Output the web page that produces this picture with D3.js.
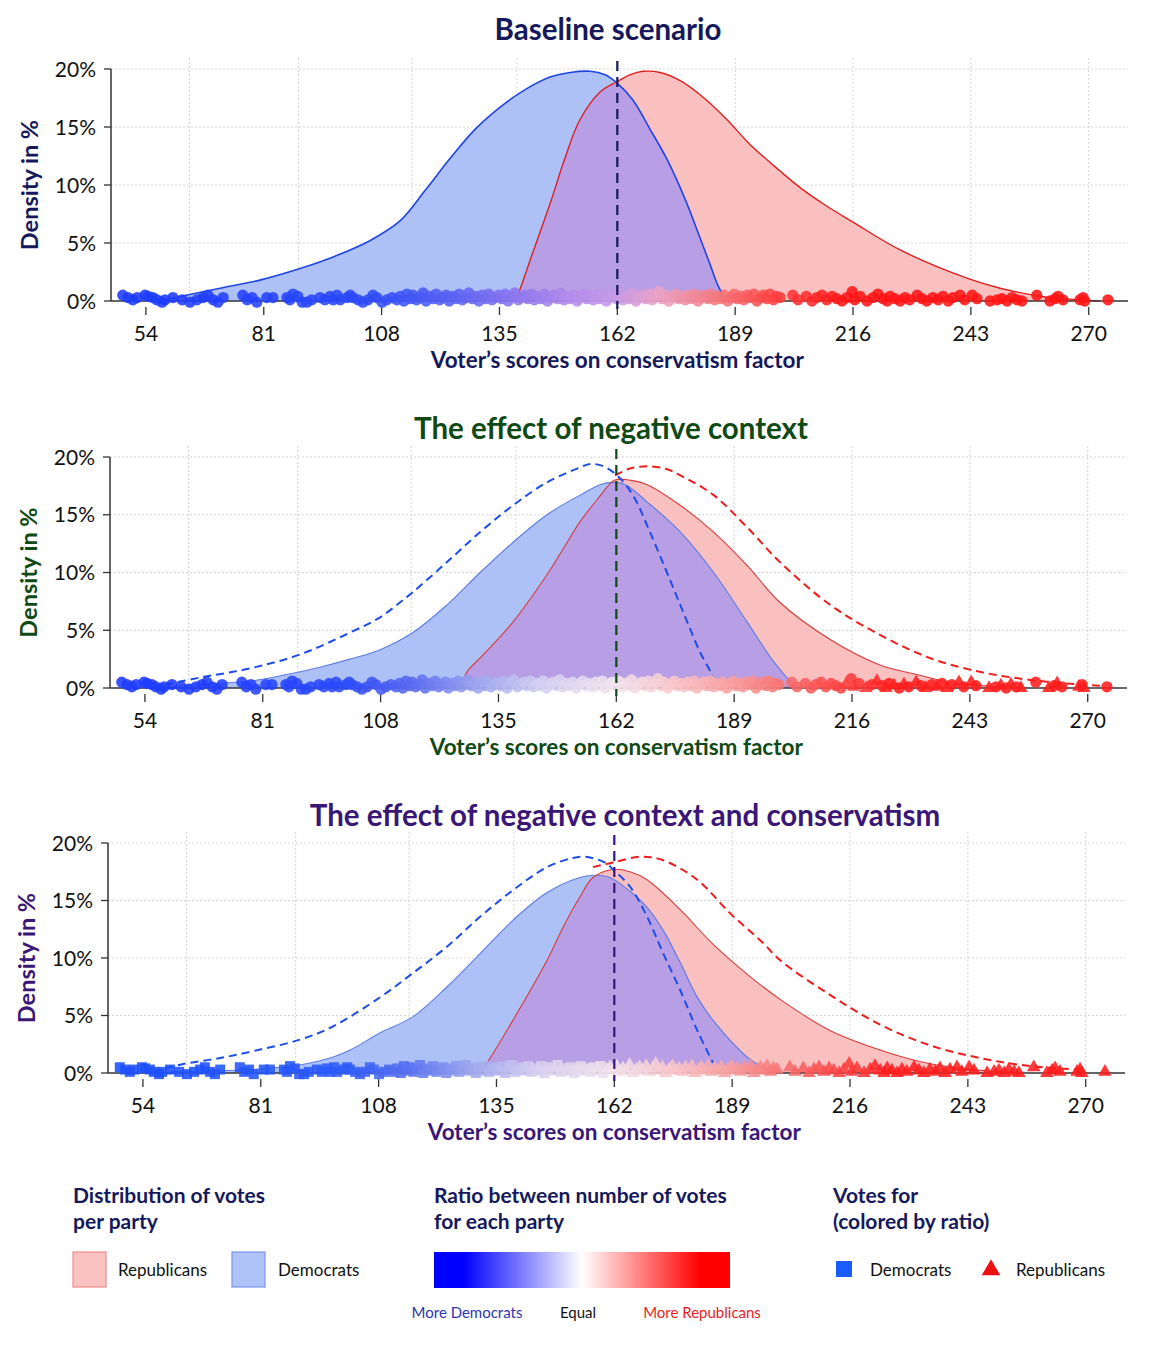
<!DOCTYPE html>
<html><head><meta charset="utf-8">
<script src="https://cdn.jsdelivr.net/npm/d3@7"></script>
<style>body{margin:0;background:#fff;} svg{display:block;font-family:Lato,'Open Sans',sans-serif;}</style>
</head><body><svg id="c" width="1158" height="1358"></svg>
<script>
// ---------------- DATA ----------------
const xTicks = [54, 81, 108, 135, 162, 189, 216, 243, 270];
const yTicks = [0, 5, 10, 15, 20];
const xGridLines = [64, 89, 115, 139, 189, 216, 243, 270];
const equalScore = 162;

const titles = ["Baseline scenario", "The effect of negative context", "The effect of negative context and conservatism"];
const xLabel = "Voter\u2019s scores on conservatism factor";
const yLabel = "Density in %";

// density curves: [score, density %]
const p1Dem = [[57.2,0],[61.3,0.35],[71.0,1.1],[80.1,1.8],[89.3,2.8],[96.9,3.8],[105.3,5.2],[112.2,6.9],[117.9,9.5],[123.7,12.3],[129.4,14.8],[135.1,16.7],[140.8,18.2],[146.6,19.3],[151.2,19.7],[155.8,19.8],[159.2,19.5],[161.9,18.8],[165.6,17.3],[169.5,14.8],[173.4,12.2],[177.5,8.8],[180.9,5.5],[183.2,3.2],[185.5,1.0],[187.8,0]];
const p1Rep = [[138.6,0],[139.7,1.0],[142.0,3.5],[146.6,8.4],[150.0,12.3],[153.4,15.6],[158.0,18.0],[161.9,18.9],[164.9,19.5],[167.9,19.8],[171.8,19.7],[176.4,19.0],[180.9,17.8],[186.7,15.8],[192.4,13.5],[199.3,11.2],[203.8,9.8],[209.5,8.3],[216.0,6.8],[226.8,4.4],[242.6,1.9],[249.7,1.1],[260.0,0.35],[268.0,0.1],[272.6,0]];

const p2DemBase = [[58.6,0.3],[66.6,0.9],[78.1,1.7],[89.5,2.9],[101.0,4.8],[107.8,6.1],[112.4,7.4],[115.4,8.3],[123.2,10.9],[130.8,13.5],[138.3,15.8],[146.1,17.8],[153.7,19.1],[156.0,19.4],[159.0,19.2],[162.2,18.4],[165.8,16.7],[169.7,13.5],[173.6,10.0],[177.3,6.6],[181.2,3.1],[184.1,1.1]];
const p2Dem = [[59.7,0.1],[66.6,0.3],[78.1,0.6],[85.6,1.1],[94.1,1.8],[101.0,2.5],[107.8,3.3],[115.4,4.8],[123.2,7.2],[130.8,10.0],[138.3,12.6],[146.1,15.0],[153.7,16.7],[158.3,17.6],[161.1,17.8],[164.1,17.6],[169.1,16.1],[176.7,13.5],[184.3,10.0],[192.0,5.7],[198.0,2.3],[201.9,0.6],[204.2,0]];
const p2Rep = [[126.2,0],[127.8,1.4],[130.8,2.6],[138.3,5.7],[146.1,9.8],[150.7,12.6],[153.7,14.4],[157.6,16.3],[161.7,18.0],[165.1,18.0],[169.1,17.6],[176.7,15.8],[184.3,13.5],[192.0,10.6],[199.5,7.4],[211.0,4.2],[222.4,2.0],[231.6,1.1],[238.4,0.5],[249.9,0.1],[254.5,0]];
const p2RepBase = [[161.7,18.4],[165.1,19.0],[169.1,19.2],[173.2,19.0],[176.7,18.4],[184.3,16.7],[192.0,13.9],[199.5,10.9],[211.0,7.2],[222.4,4.6],[233.8,2.6],[245.3,1.4],[256.8,0.7],[268.2,0.3],[272.8,0.2]];

const p3DemBase = [[59.1,0.4],[63.5,0.8],[71.7,1.3],[80.4,2.0],[90.0,2.9],[97.3,4.0],[108.4,6.6],[115.9,8.7],[123.7,11.0],[131.3,13.6],[138.8,15.9],[146.6,17.9],[152.5,18.7],[155.4,18.8],[159.9,18.3],[161.7,17.7],[165.6,16.2],[169.5,13.6],[173.2,10.4],[177.1,7.2],[181.0,3.7],[184.6,0.9]];
const p3Dem = [[60.2,0.1],[78.6,0.3],[90.0,0.7],[96.9,1.3],[101.5,2.0],[108.4,3.5],[115.9,4.9],[123.7,7.5],[131.3,10.4],[138.8,13.3],[146.6,15.7],[154.1,17.0],[157.1,17.2],[161.0,17.0],[165.6,15.8],[169.5,14.4],[173.2,12.4],[177.1,9.6],[181.0,6.6],[184.6,4.6],[192.4,1.4],[196.1,0.5],[200.0,0]];
const p3Rep = [[131.3,0],[132.9,0.9],[138.8,4.6],[146.6,9.8],[150.3,12.7],[154.1,15.3],[157.1,17.0],[161.7,17.7],[165.6,17.5],[169.5,16.8],[177.1,14.2],[184.6,11.2],[192.4,8.6],[200.0,6.4],[211.4,3.7],[222.9,2.0],[232.0,1.0],[241.2,0.4],[250.4,0.1],[255.0,0]];
const p3RepBase = [[157.1,17.9],[161.7,18.3],[167.9,18.8],[173.2,18.5],[181.0,16.8],[188.5,13.9],[196.1,11.3],[200.0,9.8],[211.4,6.8],[222.9,4.2],[234.4,2.4],[245.8,1.3],[257.3,0.6],[268.7,0.3]];

// voters: [score, vertical lift in %]
const voters = [[48.7,0.5],[49.9,0.3],[51.0,0.1],[52.0,0.3],[53.8,0.5],[54.5,0.4],[55.6,0.3],[56.5,0.1],[57.7,-0.1],[58.4,0.1],[60.2,0.3],[62.3,0.1],[64.1,-0.1],[65.7,0.1],[67.1,0.3],[68.2,0.5],[69.4,0.1],[70.5,-0.1],[71.7,0.3],[76.2,0.5],[77.2,0.1],[78.3,0.3],[79.4,-0.1],[81.7,0.3],[83.1,0.3],[86.3,0.3],[87.0,0.1],[87.7,0.6],[88.8,0.4],[89.8,-0.1],[90.9,-0.1],[92.0,0.1],[93.9,0.3],[95.0,0.1],[96.2,0.4],[96.9,0.1],[97.8,0.5],[98.5,0.1],[100.1,0.3],[100.8,0.5],[101.4,0.3],[102.6,0.1],[103.7,-0.1],[104.9,0.1],[106.0,0.5],[106.9,0.3],[108.1,-0.1],[109.2,0.1],[110.4,0.3],[111.5,0.1],
[112.3,0.4],[113.1,0.0],[113.8,0.6],[114.6,0.2],[115.2,0.5],[116.0,0.1],[116.9,0.3],[117.5,0.7],[118.2,0.0],[119.0,0.4],[119.8,0.2],[120.5,0.6],[121.3,0.1],[122.0,0.3],[122.8,0.5],[123.5,0.0],[124.3,0.4],[125.0,0.2],[125.8,0.6],[126.5,0.1],[127.3,0.3],[128.0,0.7],[128.8,0.2],[129.5,0.4],[130.3,0.0],[131.0,0.5],[131.8,0.2],[132.5,0.6],[133.3,0.1],[134.0,0.3],[134.8,0.5],[135.5,0.2],[136.3,0.6],[137.0,0.0],[137.8,0.4],[138.5,0.7],[139.3,0.1],[140.0,0.3],[140.8,0.5],[141.5,0.2],[142.3,0.6],[143.0,0.1],[143.8,0.4],[144.5,0.2],[145.3,0.6],[146.0,0.0],[146.8,0.3],[147.5,0.5],[148.3,0.2],[149.0,0.7],[149.8,0.1],[150.5,0.4],[151.3,0.2],[152.0,0.5],[152.8,0.0],[153.5,0.3],[154.3,0.6],[155.0,0.2],[155.8,0.4],[156.5,0.1],[157.3,0.5],[158.0,0.2],[158.8,0.6],[159.5,0.0],[160.3,0.3],[161.0,0.5],[161.8,0.2],[162.5,0.6],[163.3,0.1],[164.0,0.4],[164.8,0.2],[165.5,0.7],[166.3,0.0],[167.0,0.3],[167.8,0.5],[168.5,0.2],[169.3,0.6],[170.0,0.1],[170.8,0.4],[171.5,0.8],[172.3,0.2],[173.0,0.5],[173.8,0.0],[174.5,0.3],[175.3,0.6],[176.0,0.2],[176.8,0.4],[177.5,0.1],[178.3,0.5],[179.0,0.2],[179.8,0.6],[180.5,0.0],[181.3,0.3],[182.0,0.5],[182.8,0.2],[183.5,0.6],[184.3,0.1],[185.0,0.4],[185.8,0.2],[186.5,0.5],[187.3,0.0],[188.0,0.3],[188.8,0.6],[189.5,0.2],[190.3,0.4],[191.0,0.1],[191.8,0.5],[192.5,0.3],[193.3,0.6],[194.0,0.0],[194.8,0.3],[195.5,0.5],[196.3,0.2],[197.0,0.6],[197.8,0.1],[198.5,0.4],
[199.3,0.3],[202.2,0.5],[203.4,0.1],[205.3,0.4],[206.6,0.0],[207.7,0.3],[208.9,0.5],[210.0,0.1],[211.2,0.4],[212.3,0.2],[213.5,0.0],[214.6,0.3],[215.8,0.8],[216.4,0.1],[217.6,0.4],[219.2,0.0],[220.6,0.3],[221.7,0.6],[222.9,0.2],[223.8,0.0],[224.5,0.4],[225.6,0.2],[226.8,0.0],[227.9,0.3],[229.0,0.1],[230.7,0.5],[231.8,0.2],[232.9,0.0],[234.3,0.3],[235.5,0.1],[236.6,0.4],[237.8,0.0],[238.9,0.3],[240.5,0.5],[241.6,0.1],[243.3,0.5],[244.4,0.2],[247.4,0.0],[249.0,0.1],[250.1,0.2],[251.3,0.0],[252.4,0.3],[253.6,0.1],[254.7,0.0],[258.1,0.5],[261.1,0.0],[262.3,0.2],[263.0,0.4],[264.1,0.1],[268.0,0.1],[268.7,0.3],[269.1,0.0],[274.4,0.1]];

// ---------------- STYLE / LAYOUT ----------------
const panels = [
  {title: titles[0], color: "#15195c", dx: 0, y0: 301, y20: 69, titleY: 40, titleX: 608,
   dem: p1Dem, rep: p1Rep, demBase: null, repBase: null, shape: "circle", bold: true,
   dotStops: [60,105,125,140,152,162,172,185,200,215],
   dotColors: ["#1e3cff","#2c4af8","#5a62f2","#9078ee","#b48cec","#c69ae8","#eca2c4","#f47a80","#ff3a3a","#ff1414"]},
  {title: titles[1], color: "#0f4a14", dx: -1, y0: 688, y20: 457, titleY: 439, titleX: 611,
   dem: p2Dem, rep: p2Rep, demBase: p2DemBase, repBase: p2RepBase, shape: "mixed", bold: false,
   dotStops: [60,100,115,130,145,162,175,190,205,225],
   dotColors: ["#1e3cff","#2c4af8","#5868f0","#9ca4ee","#d4d0f2","#f2e4ee","#f8c8cc","#f89c9c","#f86060","#ff1e1e"]},
  {title: titles[2], color: "#3a1677", dx: -3, y0: 1073, y20: 843, titleY: 826, titleX: 625,
   dem: p3Dem, rep: p3Rep, demBase: p3DemBase, repBase: p3RepBase, shape: "party", bold: false,
   dotStops: [60,100,115,130,145,162,175,190,205,225],
   dotColors: ["#1e50ff","#2c5af8","#5870f0","#a0a8ee","#d8d0f0","#f2e2ec","#f8c8cc","#f89c9c","#f86060","#ff1e1e"]}
];

const svg = d3.select("#c");
const xDomain = [46, 279];
const plotLeft = 111, plotRight = 1128;
const curve = d3.curveCatmullRom.alpha(0.5);

panels.forEach((p, i) => {
  const g = svg.append("g").attr("transform", `translate(${p.dx},0)`);
  const x = d3.scaleLinear().domain(xDomain).range([plotLeft, plotRight]);
  const y = d3.scaleLinear().domain([0, 20]).range([p.y0, p.y20]);

  // grid
  g.append("g").selectAll("line.h").data(yTicks.filter(t => t > 0)).join("line")
    .attr("x1", plotLeft).attr("x2", plotRight).attr("y1", d => y(d)).attr("y2", d => y(d))
    .attr("stroke", "#d4d4d4").attr("stroke-dasharray", "2,2").attr("stroke-width", 1);
  g.append("g").selectAll("line.v").data(xGridLines).join("line")
    .attr("x1", d => x(d)).attr("x2", d => x(d)).attr("y1", y(20) - 11).attr("y2", p.y0)
    .attr("stroke", "#d4d4d4").attr("stroke-dasharray", "2,2").attr("stroke-width", 1);

  const area = d3.area().x(d => x(d[0])).y0(y(0)).y1(d => y(Math.max(0, d[1]))).curve(curve);
  const line = d3.line().x(d => x(d[0])).y(d => y(d[1])).curve(curve);

  const clipId = "repclip" + i;
  g.append("clipPath").attr("id", clipId).append("path").attr("d", area(p.rep));

  g.append("path").attr("d", area(p.dem)).attr("fill", "#aec1f7");
  g.append("path").attr("d", area(p.rep)).attr("fill", "#fac0c0");
  g.append("path").attr("d", area(p.dem)).attr("fill", "#b79ee5").attr("clip-path", `url(#${clipId})`);
  g.append("path").attr("d", line(p.dem)).attr("fill", "none")
    .attr("stroke", p.bold ? "#1f45e0" : "#5c7ce0").attr("stroke-width", p.bold ? 1.6 : 1.1);
  g.append("path").attr("d", line(p.rep)).attr("fill", "none")
    .attr("stroke", p.bold ? "#dd1f1f" : "#d83a3a").attr("stroke-width", p.bold ? 1.4 : 1.1);

  if (p.demBase) {
    g.append("path").attr("d", line(p.demBase)).attr("fill", "none")
      .attr("stroke", "#1d4de6").attr("stroke-width", 2).attr("stroke-dasharray", "8,5");
  }
  if (p.repBase) {
    g.append("path").attr("d", line(p.repBase)).attr("fill", "none")
      .attr("stroke", "#ee1c1c").attr("stroke-width", 2).attr("stroke-dasharray", "8,5");
  }

  // axes
  g.append("line").attr("x1", plotLeft).attr("x2", plotRight).attr("y1", y(0)).attr("y2", y(0))
    .attr("stroke", "#333").attr("stroke-width", 1.5);
  g.append("line").attr("x1", plotLeft).attr("x2", plotLeft).attr("y1", y(20)).attr("y2", y(0))
    .attr("stroke", "#333").attr("stroke-width", 1.5);
  g.append("g").selectAll("line").data(yTicks).join("line")
    .attr("x1", plotLeft - 7).attr("x2", plotLeft).attr("y1", d => y(d)).attr("y2", d => y(d))
    .attr("stroke", "#333").attr("stroke-width", 1.3);
  g.append("g").selectAll("text").data(yTicks).join("text")
    .attr("x", plotLeft - 15).attr("y", d => y(d)).attr("dy", "0.36em")
    .attr("text-anchor", "end").attr("font-size", 21).attr("fill", "#111").text(d => d + "%");
  g.append("g").selectAll("line").data(xTicks).join("line")
    .attr("x1", d => x(d)).attr("x2", d => x(d)).attr("y1", y(0) + 6).attr("y2", y(0) + 14)
    .attr("stroke", "#333").attr("stroke-width", 1.3);
  g.append("g").selectAll("text").data(xTicks).join("text")
    .attr("x", d => x(d)).attr("y", y(0) + 40)
    .attr("text-anchor", "middle").attr("font-size", 21).attr("fill", "#111").text(d => d);

  // dots
  const col = d3.scaleLinear().domain(p.dotStops).range(p.dotColors).clamp(true);
  const shapeOf = (d, k) => {
    if (p.shape === "circle") return d3.symbolCircle;
    if (p.shape === "party") return d[0] < equalScore - 2 ? d3.symbolSquare : d3.symbolTriangle;
    return (d[0] > 214 && k % 2 === 1) ? d3.symbolTriangle : d3.symbolCircle;
  };
  const sizeOf = t => t === d3.symbolCircle ? 100 : (t === d3.symbolSquare ? 100 : 80);
  g.append("g").selectAll("path").data(voters).join("path")
    .attr("transform", d => `translate(${x(d[0])},${y(d[1])})`)
    .attr("d", (d, k) => { const t = shapeOf(d, k); return d3.symbol().type(t).size(sizeOf(t))(); })
    .attr("fill", d => col(d[0])).attr("fill-opacity", 0.88);

  // vertical equal line
  g.append("line").attr("x1", x(equalScore)).attr("x2", x(equalScore))
    .attr("y1", y(20) - 8).attr("y2", y(0) + 8)
    .attr("stroke", p.color).attr("stroke-width", 2.2).attr("stroke-dasharray", "10,6");

  // titles and labels
  svg.append("text").attr("x", p.titleX).attr("y", p.titleY).attr("text-anchor", "middle")
    .attr("font-size", 29.5).attr("font-weight", 700).attr("fill", p.color).text(p.title);
  g.append("text").attr("x", x(equalScore)).attr("y", y(0) + 67).attr("text-anchor", "middle")
    .attr("font-size", 22.5).attr("font-weight", 700).attr("fill", p.color).text(xLabel);
  g.append("text").attr("transform", `translate(38,${(y(0) + y(20)) / 2}) rotate(-90)`)
    .attr("text-anchor", "middle").attr("font-size", 23.5).attr("font-weight", 700)
    .attr("fill", p.color).text(yLabel);
});

// ---------------- LEGEND ----------------
const navy = "#15195c";
const lg = svg.append("g");
function titleLines(xp, lines) {
  lines.forEach((t, k) => lg.append("text").attr("x", xp).attr("y", 1203 + k * 26)
    .attr("font-size", 21).attr("font-weight", 700).attr("fill", navy).text(t));
}
titleLines(73, ["Distribution of votes", "per party"]);
titleLines(434, ["Ratio between number of votes", "for each party"]);
titleLines(833, ["Votes for", "(colored by ratio)"]);

lg.append("rect").attr("x", 73).attr("y", 1252).attr("width", 33).attr("height", 35)
  .attr("fill", "#fbc2c2").attr("stroke", "#f08a8a").attr("stroke-width", 1.2);
lg.append("text").attr("x", 118).attr("y", 1276).attr("font-size", 17).attr("fill", "#111").text("Republicans");
lg.append("rect").attr("x", 232).attr("y", 1252).attr("width", 33).attr("height", 35)
  .attr("fill", "#b0c3f8").attr("stroke", "#7a96ea").attr("stroke-width", 1.2);
lg.append("text").attr("x", 278).attr("y", 1276).attr("font-size", 17).attr("fill", "#111").text("Democrats");

const defs = svg.append("defs");
const grad = defs.append("linearGradient").attr("id", "ratioGrad");
[[0, "#0000ff"], [0.1, "#0000ff"], [0.5, "#ffffff"], [0.9, "#ff0000"], [1, "#ff0000"]].forEach(s =>
  grad.append("stop").attr("offset", s[0]).attr("stop-color", s[1]));
lg.append("rect").attr("x", 434).attr("y", 1252).attr("width", 296).attr("height", 36).attr("fill", "url(#ratioGrad)");
lg.append("text").attr("x", 467).attr("y", 1318).attr("text-anchor", "middle").attr("font-size", 15).attr("fill", "#2a35b0").text("More Democrats");
lg.append("text").attr("x", 578).attr("y", 1318).attr("text-anchor", "middle").attr("font-size", 15).attr("fill", "#111").text("Equal");
lg.append("text").attr("x", 702).attr("y", 1318).attr("text-anchor", "middle").attr("font-size", 15).attr("fill", "#ee1c1c").text("More Republicans");

lg.append("path").attr("transform", "translate(844,1269)").attr("d", d3.symbol().type(d3.symbolSquare).size(256)()).attr("fill", "#1a5cff");
lg.append("text").attr("x", 870).attr("y", 1276).attr("font-size", 17).attr("fill", "#111").text("Democrats");
lg.append("path").attr("transform", "translate(991,1270)").attr("d", d3.symbol().type(d3.symbolTriangle).size(150)()).attr("fill", "#ee1010");
lg.append("text").attr("x", 1016).attr("y", 1276).attr("font-size", 17).attr("fill", "#111").text("Republicans");
</script></body></html>
